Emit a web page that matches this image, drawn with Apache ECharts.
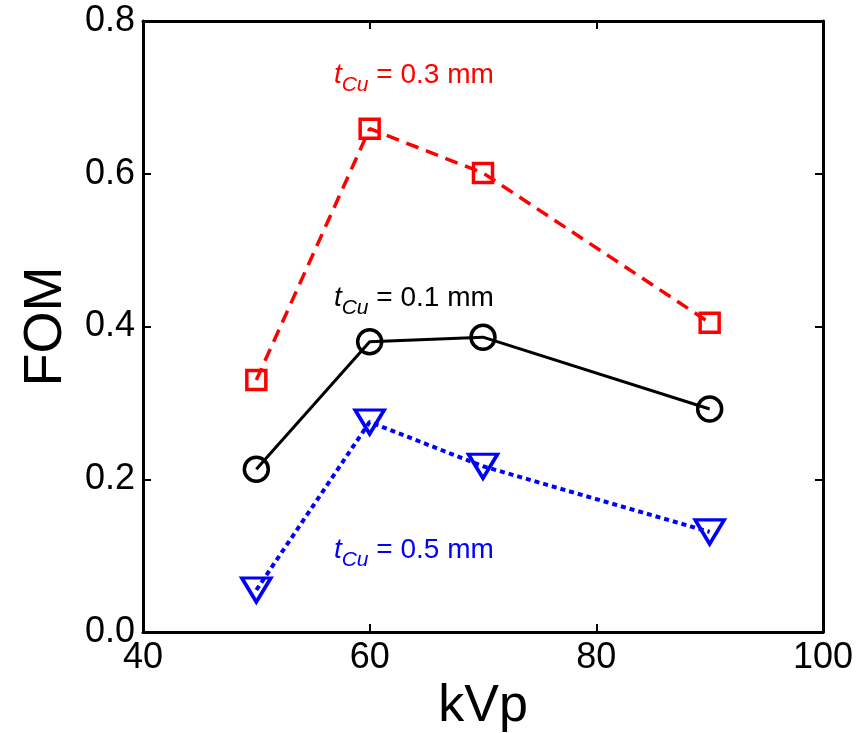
<!DOCTYPE html>
<html><head><meta charset="utf-8">
<script src="https://cdn.jsdelivr.net/npm/echarts@6/dist/echarts.min.js"></script>
<style>html,body{margin:0;padding:0;background:#fff}#c{width:862px;height:733px}</style>
</head><body><div id="c"></div>
<script>
const kvp = [50, 60, 70, 90];
const fom01 = [0.213, 0.380, 0.386, 0.292];
const fom03 = [0.330, 0.659, 0.601, 0.405];
const fom05 = [0.055, 0.275, 0.217, 0.131];
const labelNames = ['0.1', '0.3', '0.5'];
const labelPos = [[56.8, 0.437], [56.8, 0.729], [56.8, 0.107]];

const FONT = 'Liberation Sans, Arial, sans-serif';
function pairs(xs, ys){ return xs.map((x,i)=>[x, ys[i]]); }
function annot(name, pos, color){
  return {
    symbol: 'circle', symbolSize: 1, silent: true, animation: false,
    itemStyle: { color: 'transparent', borderWidth: 0 },
    label: { show: true, position: 'right', distance: 0,
        formatter: '{t|t}{s|Cu}{n| = ' + name + ' mm}',
        rich: {
          t: { fontFamily: FONT, fontStyle: 'italic', fontSize: 28, color: color, lineHeight: 34 },
          s: { fontFamily: FONT, fontStyle: 'italic', fontSize: 21, color: color, padding: [20, 0, 0, 0], lineHeight: 34 },
          n: { fontFamily: FONT, fontSize: 28, color: color, lineHeight: 34 }
        } },
    data: [{ coord: pos }]
  };
}
const axisCommon = {
  min: 0, max: 0.8, interval: 0.2,
  axisLine: { show: true, onZero: false, lineStyle: { color: '#000', width: 3 } },
  axisTick: { show: true, inside: true, length: 8, lineStyle: { color: '#000', width: 2 } },
  splitLine: { show: false }
};
const chart = echarts.init(document.getElementById('c'));
chart.setOption({
  animation: false,
  backgroundColor: '#fff',
  grid: { left: 143, right: 39, top: 21, bottom: 101, containLabel: false, outerBoundsMode: 'none' },
  xAxis: [
    { type: 'value', position: 'bottom', min: 40, max: 100, interval: 20,
      name: 'kVp', nameLocation: 'middle', nameGap: 46,
      nameTextStyle: { fontFamily: FONT, fontSize: 52, color: '#000' },
      axisLine: { show: true, onZero: false, lineStyle: { color: '#000', width: 3 } },
      axisTick: { show: true, inside: true, length: 8, lineStyle: { color: '#000', width: 2 } },
      axisLabel: { fontFamily: FONT, fontSize: 36, color: '#000', margin: 8 },
      splitLine: { show: false } },
    { type: 'value', position: 'top', min: 40, max: 100, interval: 20,
      axisLine: { show: true, onZero: false, lineStyle: { color: '#000', width: 3 } },
      axisTick: { show: true, inside: true, length: 8, lineStyle: { color: '#000', width: 2 } },
      axisLabel: { show: false }, splitLine: { show: false } }
  ],
  yAxis: [
    Object.assign({ type: 'value', position: 'left',
      name: 'FOM', nameLocation: 'middle', nameGap: 70, nameRotate: 90,
      nameTextStyle: { fontFamily: FONT, fontSize: 54, color: '#000' },
      axisLabel: { fontFamily: FONT, fontSize: 36, color: '#000', margin: 8, formatter: v => v.toFixed(1) } }, axisCommon),
    Object.assign({ type: 'value', position: 'right', axisLabel: { show: false } }, axisCommon)
  ],
  series: [
    { type: 'line', data: pairs(kvp, fom03), symbol: 'rect', symbolSize: 19,
      lineStyle: { color: '#f00', width: 3.5, type: [13, 8] },
      itemStyle: { color: 'transparent', borderColor: '#f00', borderWidth: 3.5 },
      markPoint: annot(labelNames[1], labelPos[1], '#f00'), z: 3 },
    { type: 'line', data: pairs(kvp, fom01), symbol: 'circle', symbolSize: 24,
      lineStyle: { color: '#000', width: 3 },
      itemStyle: { color: 'transparent', borderColor: '#000', borderWidth: 3.5 },
      markPoint: annot(labelNames[0], labelPos[0], '#000'), z: 3 },
    { type: 'line', data: pairs(kvp, fom05), symbol: 'triangle', symbolRotate: 180, symbolSize: [29, 24],
      lineStyle: { color: '#00f', width: 4, type: [5, 4] },
      itemStyle: { color: 'transparent', borderColor: '#00f', borderWidth: 3.5 },
      markPoint: annot(labelNames[2], labelPos[2], '#00f'), z: 3 }
  ]
});
</script></body></html>
